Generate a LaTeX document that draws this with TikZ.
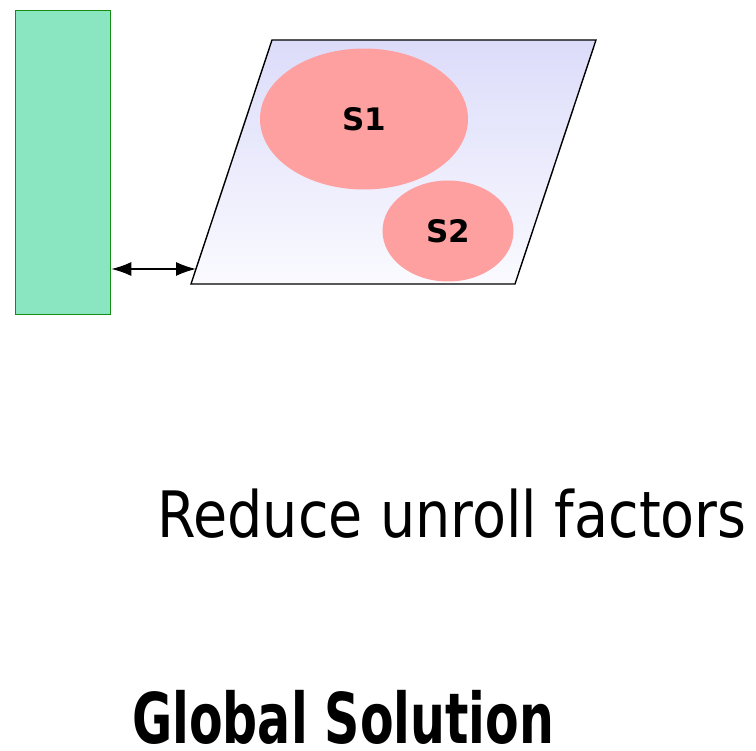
\documentclass[tikz,border=0pt]{standalone}
\usepackage{fontspec}
\setmainfont{DejaVu Sans}
\usetikzlibrary{positioning,arrows.meta,shapes.geometric}

\definecolor{colgreen}{RGB}{138,230,192}
\definecolor{colborder}{RGB}{20,140,20}
\definecolor{setred}{RGB}{255,160,160}
\definecolor{planetop}{RGB}{220,220,250}
\definecolor{planebot}{RGB}{250,250,255}

\begin{document}
\begin{tikzpicture}[x=1pt, y=-1pt,
  link/.style={line width=1.5pt, arrows={Latex[length=20pt,width=14pt]-Latex[length=20pt,width=14pt]}}]
  \useasboundingbox (0,0) rectangle (756,751);
  % memory column
  \node[draw=colborder, line width=1.3pt, fill=colgreen, minimum width=95pt, minimum height=304pt, inner sep=0pt, anchor=north west] (col) at (15,10) {};
  % iteration plane
  \coordinate (pa) at (191,284);
  \coordinate (pb) at (515,284);
  \coordinate (pc) at (596,40);
  \coordinate (pd) at (272,40);
  \path[draw, line width=1.4pt, top color=planetop, bottom color=planebot] (pa) -- (pb) -- (pc) -- (pd) -- cycle;
  % statement sets
  \node[ellipse, fill=setred, minimum width=208pt, minimum height=141pt, font=\bfseries\fontsize{31}{31}\selectfont] (s1) at (364,119) {S1};
  \node[ellipse, fill=setred, minimum width=131pt, minimum height=101pt, font=\bfseries\fontsize{31}{31}\selectfont] (s2) at (448,231) {S2};
  \coordinate (pin) at (196,269);
  \draw[link] (col.east |- pin) -- (pin);
  % captions
  \node[anchor=base west, inner sep=0pt, font=\fontsize{64}{64}\selectfont] (reduce) at (157,538) {\scalebox{0.868}[1]{Reduce unroll factors}};
  \node[anchor=base west, inner sep=0pt, font=\bfseries\fontsize{70}{70}\selectfont] (global) at (132,743) {\scalebox{0.7}[1]{Global Solution}};
\end{tikzpicture}
\end{document}
